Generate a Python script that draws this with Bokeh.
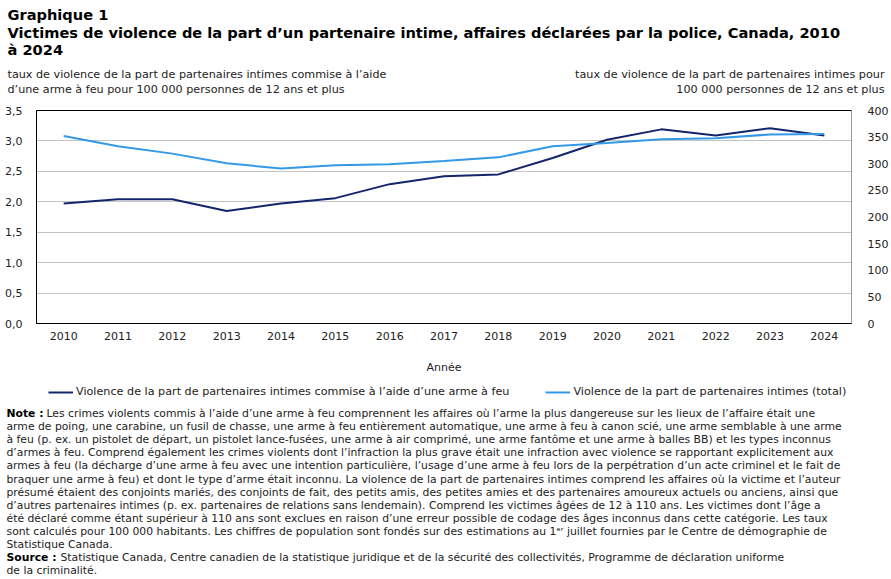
from bokeh.plotting import figure
from bokeh.models import (Range1d, LinearAxis, FixedTicker, CustomJSTickFormatter,
                          Label, Legend, LegendItem)
from bokeh.embed import file_html
from bokeh.resources import INLINE

# ---------------- data ----------------
years = list(range(2010, 2025))
firearm_rate = [1.97, 2.04, 2.04, 1.85, 1.97, 2.06, 2.29, 2.42, 2.45, 2.72, 3.02, 3.19, 3.09, 3.21, 3.09]
total_rate = [352, 333, 319, 301, 291, 297, 299, 305, 312, 333, 339, 346, 348, 355, 356]
left_ticks = [0, 0.5, 1.0, 1.5, 2.0, 2.5, 3.0, 3.5]
right_ticks = [0, 50, 100, 150, 200, 250, 300, 350, 400]
series_names = ["Violence de la part de partenaires intimes commise à l’aide d’une arme à feu",
                "Violence de la part de partenaires intimes (total)"]

FONT = "DejaVu Sans"
DARK = "#13266b"
LIGHT = "#3399e6"
TXT = "#222222"

W = 891
TOP_H = 100
MAIN_H = 278
BOT_H = 579 - TOP_H - MAIN_H


def text_fig(h):
    f = figure(width=W, height=h, x_range=Range1d(0, W), y_range=Range1d(h, 0),
               output_backend="svg", toolbar_location=None,
               x_axis_location=None, y_axis_location=None,
               min_border=0, min_border_left=0, min_border_right=0,
               min_border_top=0, min_border_bottom=0)
    f.outline_line_color = None
    f.xgrid.visible = False
    f.ygrid.visible = False
    return f


def lab(f, x, y, text, size="11px", style="normal", align="left", color=TXT):
    f.add_layout(Label(x=x, y=y, text=text,
                       text_font=FONT, text_font_size=size, text_font_style=style,
                       text_color=color, text_align=align, text_baseline="middle"))


# ---------------- top: titles ----------------
top = text_fig(TOP_H)
TS = "14.6px"
lab(top, 7, 14, "Graphique 1", size=TS, style="bold", color="black")
lab(top, 7, 32, "Victimes de violence de la part d’un partenaire intime, affaires déclarées par la police, Canada, 2010",
    size=TS, style="bold", color="black")
lab(top, 7, 49, "à 2024", size=TS, style="bold", color="black")
lab(top, 7, 74, "taux de violence de la part de partenaires intimes commise à l’aide", size="11.2px")
lab(top, 7, 89, "d’une arme à feu pour 100 000 personnes de 12 ans et plus", size="11.2px")
lab(top, 884, 74, "taux de violence de la part de partenaires intimes pour", size="11.2px", align="right")
lab(top, 884, 89, "100 000 personnes de 12 ans et plus", size="11.2px", align="right")

# ---------------- main chart ----------------
p = figure(width=W, height=MAIN_H, x_range=Range1d(2009.5, 2024.5), y_range=Range1d(0, 3.5),
           output_backend="svg", toolbar_location=None,
           min_border_left=36, min_border_right=40, min_border_top=10, min_border_bottom=55)
p.extra_y_ranges = {"right": Range1d(0, 400)}

p.outline_line_color = "black"
p.outline_line_width = 1
p.xgrid.visible = False
p.ygrid.grid_line_color = "#c4c4c4"
p.ygrid.grid_line_width = 1
p.ygrid.ticker = FixedTicker(ticks=left_ticks)

xa = p.xaxis[0]
xa.ticker = FixedTicker(ticks=years)
xa.axis_line_color = "black"
xa.major_tick_line_color = None
xa.minor_tick_line_color = None
xa.major_label_text_font = FONT
xa.major_label_text_font_size = "11px"
xa.major_label_text_color = TXT
xa.major_label_standoff = 2
xa.axis_label = "Année"
xa.axis_label_text_font = FONT
xa.axis_label_text_font_size = "11px"
xa.axis_label_text_font_style = "normal"
xa.axis_label_text_color = TXT
xa.axis_label_standoff = 18

ya = p.yaxis[0]
ya.ticker = FixedTicker(ticks=left_ticks)
ya.formatter = CustomJSTickFormatter(code="return tick.toFixed(1).replace('.', ',');")
ya.axis_line_color = "black"
ya.major_tick_line_color = None
ya.minor_tick_line_color = None
ya.major_label_text_font = FONT
ya.major_label_text_font_size = "11px"
ya.major_label_text_color = TXT
ya.major_label_standoff = 8

ra = LinearAxis(y_range_name="right", ticker=FixedTicker(ticks=right_ticks))
ra.axis_line_color = "#999999"
ra.major_tick_line_color = None
ra.minor_tick_line_color = None
ra.major_label_text_font = FONT
ra.major_label_text_font_size = "11px"
ra.major_label_text_color = TXT
ra.major_label_standoff = 10
p.add_layout(ra, "right")

p.line(years, firearm_rate, line_color=DARK, line_width=2)
p.line(years, total_rate, y_range_name="right", line_color=LIGHT, line_width=2)

# ---------------- bottom: legend + notes ----------------
bot = text_fig(BOT_H)
# legend proxies: same series, lying outside this panel's visible range
k1 = bot.line(years, firearm_rate, line_color=DARK, line_width=2)
k2 = bot.line(years, total_rate, line_color=LIGHT, line_width=2)
legend = Legend(items=[LegendItem(label=series_names[0], renderers=[k1]),
                       LegendItem(label=series_names[1], renderers=[k2])],
                orientation="horizontal", location=(48, BOT_H - 20),
                label_text_font=FONT, label_text_font_size="11.2px", label_text_color=TXT,
                glyph_width=25, glyph_height=12, label_standoff=3, spacing=36,
                border_line_color=None, background_fill_alpha=0, padding=2, margin=0)
bot.add_layout(legend)

note_lines = [
    "Les crimes violents commis à l’aide d’une arme à feu comprennent les affaires où l’arme la plus dangereuse sur les lieux de l’affaire était une",
    "arme de poing, une carabine, un fusil de chasse, une arme à feu entièrement automatique, une arme à feu à canon scié, une arme semblable à une arme",
    "à feu (p. ex. un pistolet de départ, un pistolet lance-fusées, une arme à air comprimé, une arme fantôme et une arme à balles BB) et les types inconnus",
    "d’armes à feu. Comprend également les crimes violents dont l’infraction la plus grave était une infraction avec violence se rapportant explicitement aux",
    "armes à feu (la décharge d’une arme à feu avec une intention particulière, l’usage d’une arme à feu lors de la perpétration d’un acte criminel et le fait de",
    "braquer une arme à feu) et dont le type d’arme était inconnu. La violence de la part de partenaires intimes comprend les affaires où la victime et l’auteur",
    "présumé étaient des conjoints mariés, des conjoints de fait, des petits amis, des petites amies et des partenaires amoureux actuels ou anciens, ainsi que",
    "d’autres partenaires intimes (p. ex. partenaires de relations sans lendemain). Comprend les victimes âgées de 12 à 110 ans. Les victimes dont l’âge a",
    "été déclaré comme étant supérieur à 110 ans sont exclues en raison d’une erreur possible de codage des âges inconnus dans cette catégorie. Les taux",
    "sont calculés pour 100 000 habitants. Les chiffres de population sont fondés sur des estimations au 1ᵉʳ juillet fournies par le Centre de démographie de",
    "Statistique Canada.",
]
source_lines = [
    "Statistique Canada, Centre canadien de la statistique juridique et de la sécurité des collectivités, Programme de déclaration uniforme",
    "de la criminalité.",
]
NS = "10.8px"
ny0 = 413 - (TOP_H + MAIN_H)
ndy = 13.1
lab(bot, 6, ny0, "Note :", size=NS, style="bold", color="black")
for i, t in enumerate(note_lines):
    lab(bot, 46 if i == 0 else 6, ny0 + i * ndy, t, size=NS)
ys = ny0 + len(note_lines) * ndy
lab(bot, 6, ys, "Source :", size=NS, style="bold", color="black")
lab(bot, 60, ys, source_lines[0], size=NS)
lab(bot, 6, ys + ndy, source_lines[1], size=NS)

open("out.html", "w").write(file_html([top, p, bot], INLINE))
